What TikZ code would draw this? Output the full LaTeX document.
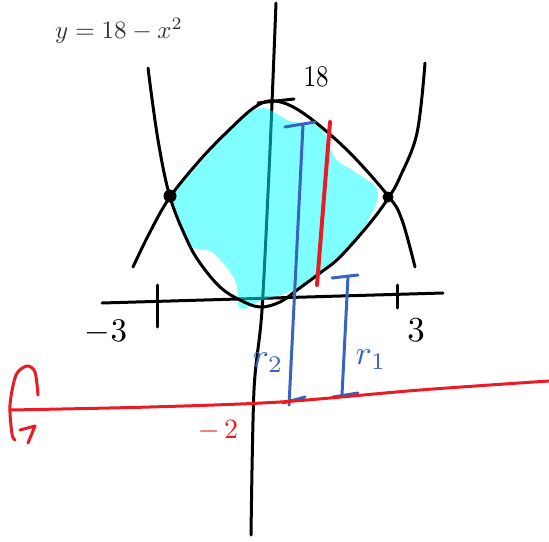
\documentclass[tikz,border=0pt]{standalone}
\usepackage{graphicx}
\definecolor{inkblue}{RGB}{58,98,192}
\definecolor{inkred}{RGB}{232,28,36}
\definecolor{hl}{RGB}{0,255,255}
\begin{document}
\begin{tikzpicture}[x=1pt,y=-1pt,
  ink/.style={line width=3pt,line cap=round,line join=round},
  blueink/.style={ink,color=inkblue},
  redink/.style={line width=4pt,line cap=round,line join=round,color=inkred},
  hand/.style={inner sep=0pt}]
\path[use as bounding box] (0,0) rectangle (549,541);
% equation
\node[inner sep=0pt, text=black!80] (eq) at (119,31) {\scalebox{2.5}{$y=18-x^2$}};
% axes
\draw[ink] plot[smooth] coordinates {(276,3) (270,150) (262,310) (254,390) (251,535)};
\draw[ink] (102,303) -- (443,293);
% shaded region
\fill[hl,opacity=0.5] plot[smooth cycle, tension=0.6] coordinates {(173,195) (203,160) (230,130) (260,108) (290,121) (320,127) (335,158) (355,172) (378,193) (360,233) (327,267) (293,290) (262,300) (240,308) (235,280) (212,252) (189,245) (175,210)};
% ticks
\draw[ink] (157,285) -- (157,327);
\draw[ink] (397,285) -- (397,308);
\draw[ink] (258,103) -- (294,99);
% parabolas
\draw[ink] plot[smooth, tension=0.6] coordinates {(133,267) (150,232) (170,197) (200,160) (228,131) (255,107) (275,101) (303,113) (347,150) (389,197) (402,220) (415,267)};
\draw[ink] plot[smooth, tension=0.6] coordinates {(148,68) (158,140) (170,197) (187,240) (200,263) (220,287) (240,300) (260,307) (280,302) (297,290) (320,273) (340,257) (370,223) (389,197) (400,177) (417,133) (425,63)};
\fill (170,196) circle (6.5pt);
\fill (388,197) circle (5.5pt);
% labels
\node[hand] (m3) at (106,332) {\scalebox{3.3}{$-3$}};
\node[hand] (p3) at (416,330) {\scalebox{3.5}{$3$}};
\node[hand] (l18) at (316,77) {\scalebox{2.5}[3.0]{$18$}};
% blue radii
\draw[blueink] (303,125) -- (289,405);
\draw[blueink] (285,127) -- (315,122);
\draw[blueink] (283,403) -- (305,397);
\draw[blueink] (348,276) -- (342,395);
\draw[blueink] (332,278) -- (358,275);
\draw[blueink] (333,397) -- (358,393);
\node[hand, text=inkblue] (r2) at (268,363) {\scalebox{3.4}{$r_2$}};
\node[hand, text=inkblue] (r1) at (371,360) {\scalebox{3.4}{$r_1$}};
% red slice
\draw[redink] (330,122) -- (317,285);
% axis of rotation
\draw[redink, line width=3pt] plot[smooth, tension=0.5] coordinates {(10,410) (150,407) (280,402) (420,390) (549,381)};
\draw[redink, line width=3pt] plot[smooth] coordinates {(38,395) (35,372) (27,366) (16,375) (10,405) (12,434) (15,440)};
\draw[redink, line width=3pt] (20,430) -- (35,426) -- (28,443);
\node[hand, text=inkred] (m2) at (218,431) {\scalebox{2.8}{$-\,2$}};
\end{tikzpicture}
\end{document}
